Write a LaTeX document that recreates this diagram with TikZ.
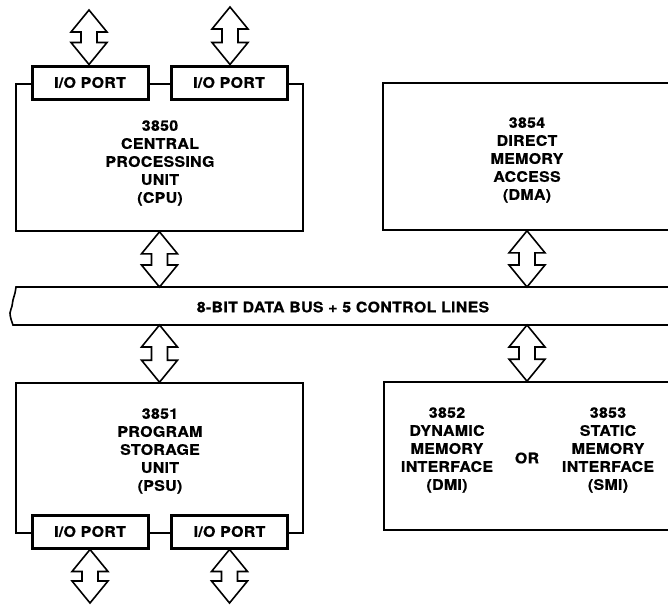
\documentclass[tikz,border=0pt]{standalone}
\usepackage{fontspec}
\usepackage{tikz}
\usetikzlibrary{positioning,calc}
\newfontfamily\chipFont[FakeStretch=1.1,LetterSpace=2,FakeBold=0.6]{TeX Gyre Heros}
\tikzset{myBox/.style={draw=black, line width=1.6pt, fill=white, inner sep=0pt}}
\tikzset{myPort/.style={draw=black, line width=3pt, fill=white, inner sep=0pt, minimum width=116pt, minimum height=33pt, font=\chipFont\bfseries\fontsize{14.5}{18}\selectfont}}
\tikzset{myLabel/.style={align=center, inner sep=0pt, font=\chipFont\bfseries\fontsize{14.5}{18}\selectfont}}
\tikzset{myArrow/.style={draw=black, line width=1.6pt, fill=white, line join=miter}}
\tikzset{myBus/.style={draw=black, line width=1.6pt}}
% hollow double arrow, #1 = top end, #2 = bottom end
\newcommand{\busArrow}[2]{%
	\draw[myArrow] let \p1=(#1), \p2=(#2) in
		(\x1,\y1) -- (\x1+18pt,\y1-22pt) -- (\x1+8pt,\y1-22pt) -- (\x1+8pt,\y2+22pt)
		-- (\x1+18pt,\y2+22pt) -- (\x1,\y2) -- (\x1-18pt,\y2+22pt) -- (\x1-8pt,\y2+22pt)
		-- (\x1-8pt,\y1-22pt) -- (\x1-18pt,\y1-22pt) -- cycle;
}

\begin{document}
\begin{tikzpicture}[x=1pt,y=-1pt]
	\useasboundingbox (0,0) rectangle (668,606);
	\clip (0,0) rectangle (668,606);
	
	% boxes
	\node[myBox, minimum width=287pt, minimum height=147pt] (cpu) at (159.5,157.5) {};
	\node[myBox, minimum width=287pt, minimum height=150pt] (psu) at (159.5,458) {};
	\node[myBox, minimum width=320pt, minimum height=147pt] (dma) at (543,156.5) {};
	\node[myBox, minimum width=320pt, minimum height=148pt] (mem) at (544,456) {};
	
	% bus
	\coordinate (busTop) at (0,287);
	\coordinate (busBot) at (0,325);
	\draw[myBus] (700,287) -- (16,287) -- plot[smooth] coordinates {(16,287) (15,293) (13,300) (12,306) (10,313) (11,319) (13,325)} -- (700,325);
	\node[myLabel] (busText) at (343,307) {8-BIT DATA BUS + 5 CONTROL LINES};
	
	% ports
	\node[myPort] (ioA) at (90,82.5) {I/O PORT};
	\node[myPort] (ioB) at (229,82.5) {I/O PORT};
	\node[myPort] (ioC) at (90,531.5) {I/O PORT};
	\node[myPort] (ioD) at (229.5,531.5) {I/O PORT};
	
	% texts
	\node[myLabel] (cpuText) at (160,163) {3850\\CENTRAL\\PROCESSING\\UNIT\\(CPU)};
	\node[myLabel] (psuText) at (160,451) {3851\\PROGRAM\\STORAGE\\UNIT\\(PSU)};
	\node[myLabel] (dmaText) at (527,160) {3854\\DIRECT\\MEMORY\\ACCESS\\(DMA)};
	\node[myLabel] (dmiText) at (447,450) {3852\\DYNAMIC\\MEMORY\\INTERFACE\\(DMI)};
	\node[myLabel] (smiText) at (608,450) {3853\\STATIC\\MEMORY\\INTERFACE\\(SMI)};
	\node[myLabel] (orText) at (527,458) {OR};
	
	% arrows
	\coordinate (memTap) at (527,0);
	\coordinate (ioTopA) at (89,10);
	\coordinate (ioTopB) at (230,7);
	\coordinate (ioBotC) at (89,603);
	\coordinate (ioBotD) at (230,603);
	\busArrow{ioTopA}{ioA.north}
	\busArrow{ioTopB}{ioB.north}
	\busArrow{ioC.south}{ioBotC}
	\busArrow{ioD.south}{ioBotD}
	\busArrow{cpu.south}{cpu.south |- busTop}
	\busArrow{psu.north |- busBot}{psu.north}
	\busArrow{memTap |- dma.south}{memTap |- busTop}
	\busArrow{memTap |- busBot}{memTap |- mem.north}
	
\end{tikzpicture}
\end{document}
